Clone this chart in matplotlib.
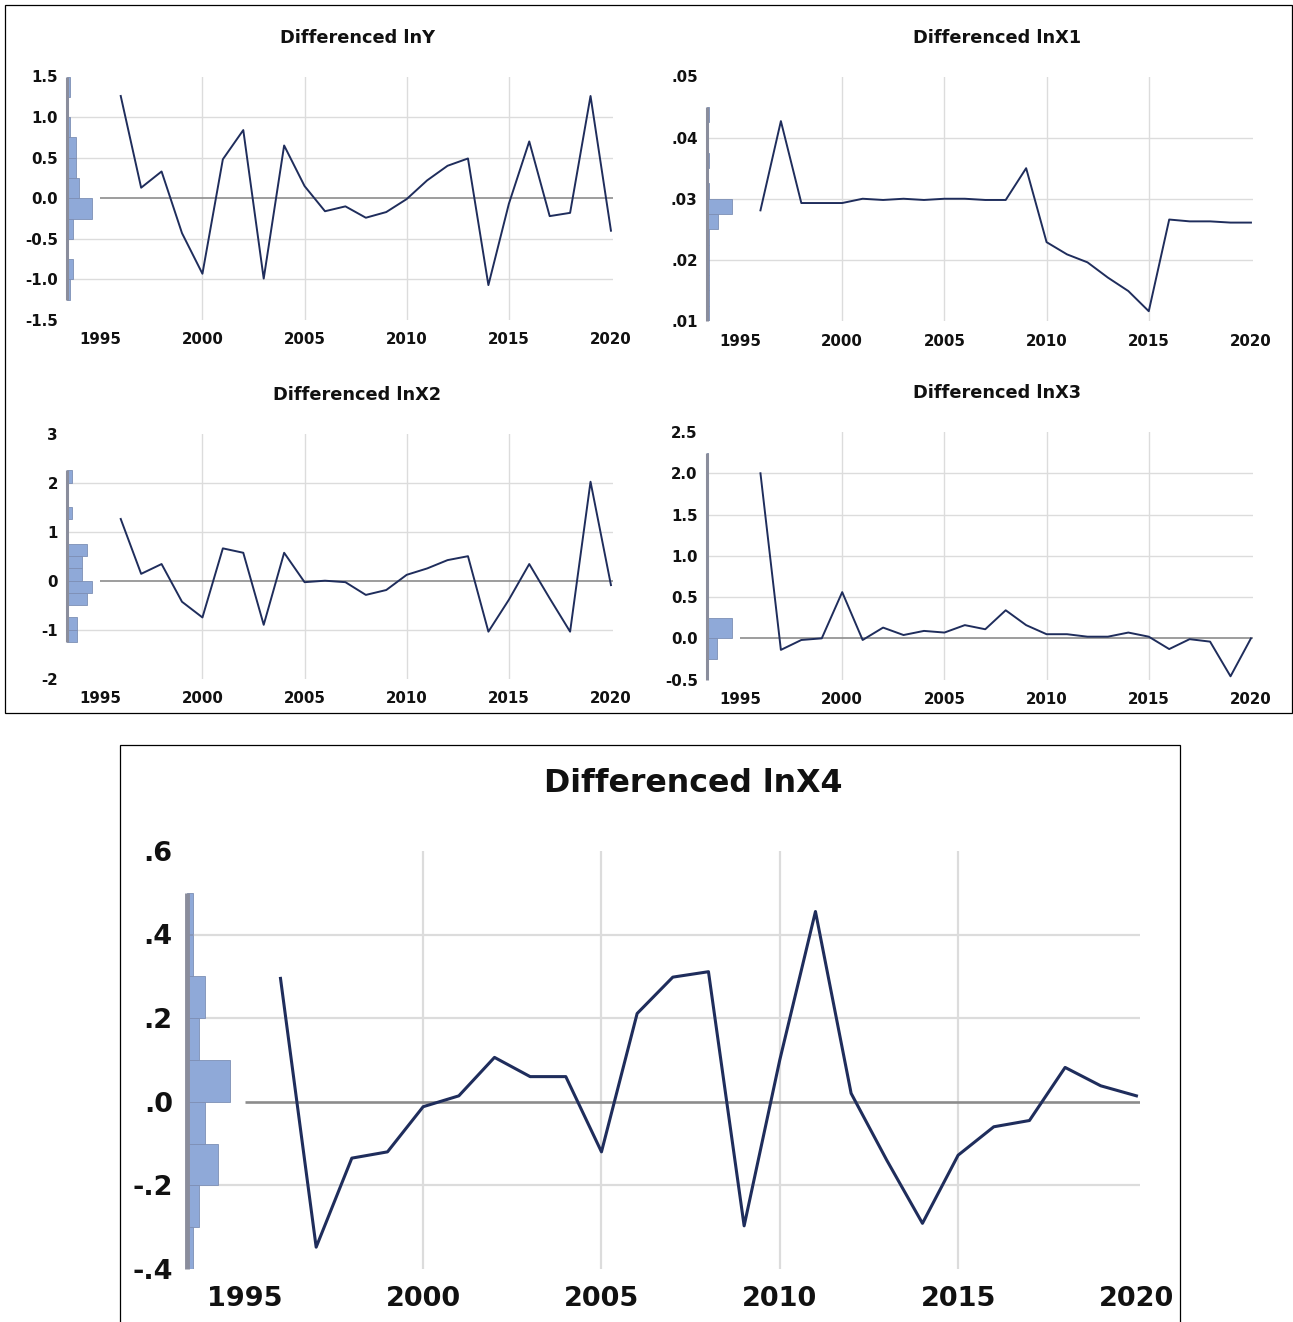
import numpy as np
import matplotlib
matplotlib.use("Agg")
import matplotlib.pyplot as plt
from matplotlib.patches import Rectangle
from matplotlib.transforms import blended_transform_factory

# years of the differenced series
years = list(range(1996, 2021))

# differenced series
d_lny = [1.26, 0.13, 0.33, -0.43, -0.93, 0.48, 0.84, -0.99, 0.65, 0.15, -0.16, -0.10, -0.24,
         -0.17, -0.01, 0.22, 0.40, 0.49, -1.07, -0.07, 0.70, -0.22, -0.18, 1.26, -0.40]
d_lnx1 = [0.0281, 0.0427, 0.0293, 0.0293, 0.0293, 0.0300, 0.0298, 0.0300, 0.0298, 0.0300,
          0.0300, 0.0298, 0.0298, 0.0350, 0.0229, 0.0209, 0.0196, 0.0171, 0.0149, 0.0116,
          0.0266, 0.0263, 0.0263, 0.0261, 0.0261]
d_lnx2 = [1.26, 0.14, 0.34, -0.43, -0.75, 0.66, 0.57, -0.90, 0.57, -0.03, 0.0, -0.03, -0.29,
          -0.19, 0.12, 0.25, 0.42, 0.50, -1.04, -0.39, 0.34, -0.36, -1.04, 2.02, -0.09]
d_lnx3 = [2.00, -0.14, -0.02, 0.0, 0.56, -0.02, 0.13, 0.04, 0.09, 0.07, 0.16, 0.11, 0.34,
          0.16, 0.05, 0.05, 0.02, 0.02, 0.07, 0.02, -0.13, -0.01, -0.04, -0.46, 0.0]
d_lnx4 = [0.295, -0.348, -0.135, -0.12, -0.012, 0.014, 0.106, 0.06, 0.06, -0.12, 0.211, 0.298,
          0.311, -0.297, 0.10, 0.455, 0.02, -0.14, -0.291, -0.128, -0.06, -0.045, 0.082, 0.038, 0.014]

# histograms along the left axis: lowest bin edge, bin width, counts per bin
hist_lny = (-1.25, 0.25, [1, 2, 0, 2, 8, 4, 3, 3, 1, 0, 1])
hist_lnx1 = (0.010, 0.0025, [1, 1, 1, 1, 1, 1, 5, 11, 1, 0, 1, 0, 0, 1])
hist_lnx2 = (-1.25, 0.25, [2, 2, 0, 4, 5, 3, 3, 4, 0, 0, 1, 0, 0, 1])
hist_lnx3 = (-0.5, 0.25, [1, 6, 15, 1, 1, 0, 0, 0, 0, 0, 1])
hist_lnx4 = (-0.4, 0.1, [1, 2, 5, 3, 7, 2, 3, 1, 1])

W, H = 1293, 1322
XL = (1993.37, 2020.1)
LINE = '#1f2d5c'
BAR = '#8fa9d8'
SPINE = '#8a8d9c'


def box(l, t, r, b):
    return [l / W, 1 - b / H, (r - l) / W, (b - t) / H]


def panel(fig, rect, title, values, hist, yticks, ylabels, small=True):
    ax = fig.add_axes(box(*rect))
    fs = 10.8 if small else 19.5
    tfs = 12.8 if small else 22.8
    lw = 1.4 if small else 2.2
    ax.set_xlim(*XL)
    ax.set_ylim(yticks[-1], yticks[0])
    for s in ax.spines.values():
        s.set_visible(False)

    # grid on the inner ticks only
    glw = 1.0 if small else 1.6
    for t in yticks[1:-1]:
        if t == 0:
            continue
        ax.axhline(t, color='#dcdcdc', lw=glw, zorder=0)
    for yr in [2000, 2005, 2010, 2015]:
        ax.axvline(yr, color='#dcdcdc', lw=glw, zorder=0)
    ax.hlines(0, 1995, XL[1], color='#8c8c8c', lw=1.2 if small else 1.9, zorder=1)

    # histogram of the series
    lo, bw, counts = hist
    counts = np.array(counts, dtype=float)
    edges = lo + bw * np.arange(len(counts))
    widths = counts / counts.max() * 1.22
    ax.barh(edges, widths, height=bw, left=XL[0], align='edge',
            color=BAR, edgecolor='#7d8fb5', lw=0.6, zorder=2)
    ax.plot([XL[0], XL[0]], [lo, lo + bw * len(counts)], color=SPINE,
            lw=2.2 if small else 3.5, solid_capstyle='butt', clip_on=False, zorder=3)

    ax.plot(years, values, color=LINE, lw=lw, zorder=4)

    ax.set_xticks([1995, 2000, 2005, 2010, 2015, 2020])
    ax.set_yticks(yticks)
    ax.set_yticklabels(ylabels)
    ax.tick_params(length=0, labelsize=fs, colors='#111111',
                   pad=6.5 if small else 10)
    ax.tick_params(axis='x', pad=9.0 if small else 12)
    for lab in ax.get_xticklabels() + ax.get_yticklabels():
        lab.set_fontweight('bold')

    tr = blended_transform_factory(ax.transData, ax.transAxes)
    ax.text(2007.57, 1.158 if small else 1.162, title, transform=tr,
            ha='center', va='center', fontsize=tfs, fontweight='bold', color='#111111')
    return ax


fig = plt.figure(figsize=(W / 100, H / 100), dpi=100)
fig.patch.set_facecolor('white')

# frames around the two picture parts
fig.patches.append(Rectangle((5 / W, 1 - 713 / H), 1287 / W, 708 / H, transform=fig.transFigure,
                             fill=False, edgecolor='black', lw=0.9))
fig.patches.append(Rectangle((120 / W, -0.01), 1060 / W, 1 - 745 / H + 0.01,
                             transform=fig.transFigure, fill=False, edgecolor='black', lw=0.9))

panel(fig, (67, 76.5, 613, 320), 'Differenced lnY', d_lny, hist_lny,
      [1.5, 1.0, 0.5, 0.0, -0.5, -1.0, -1.5],
      ['1.5', '1.0', '0.5', '0.0', '-0.5', '-1.0', '-1.5'])
panel(fig, (706.7, 76.5, 1253, 321), 'Differenced lnX1', d_lnx1, hist_lnx1,
      [0.05, 0.04, 0.03, 0.02, 0.01],
      ['.05', '.04', '.03', '.02', '.01'])
panel(fig, (67, 433.7, 613, 678.7), 'Differenced lnX2', d_lnx2, hist_lnx2,
      [3, 2, 1, 0, -1, -2],
      ['3', '2', '1', '0', '-1', '-2'])
panel(fig, (706.7, 432, 1253, 679.6), 'Differenced lnX3', d_lnx3, hist_lnx3,
      [2.5, 2.0, 1.5, 1.0, 0.5, 0.0, -0.5],
      ['2.5', '2.0', '1.5', '1.0', '0.5', '0.0', '-0.5'])
panel(fig, (186.7, 850.9, 1140, 1268.9), 'Differenced lnX4', d_lnx4, hist_lnx4,
      [0.6, 0.4, 0.2, 0.0, -0.2, -0.4],
      ['.6', '.4', '.2', '.0', '-.2', '-.4'], small=False)

fig.savefig('out.png', dpi=100)
